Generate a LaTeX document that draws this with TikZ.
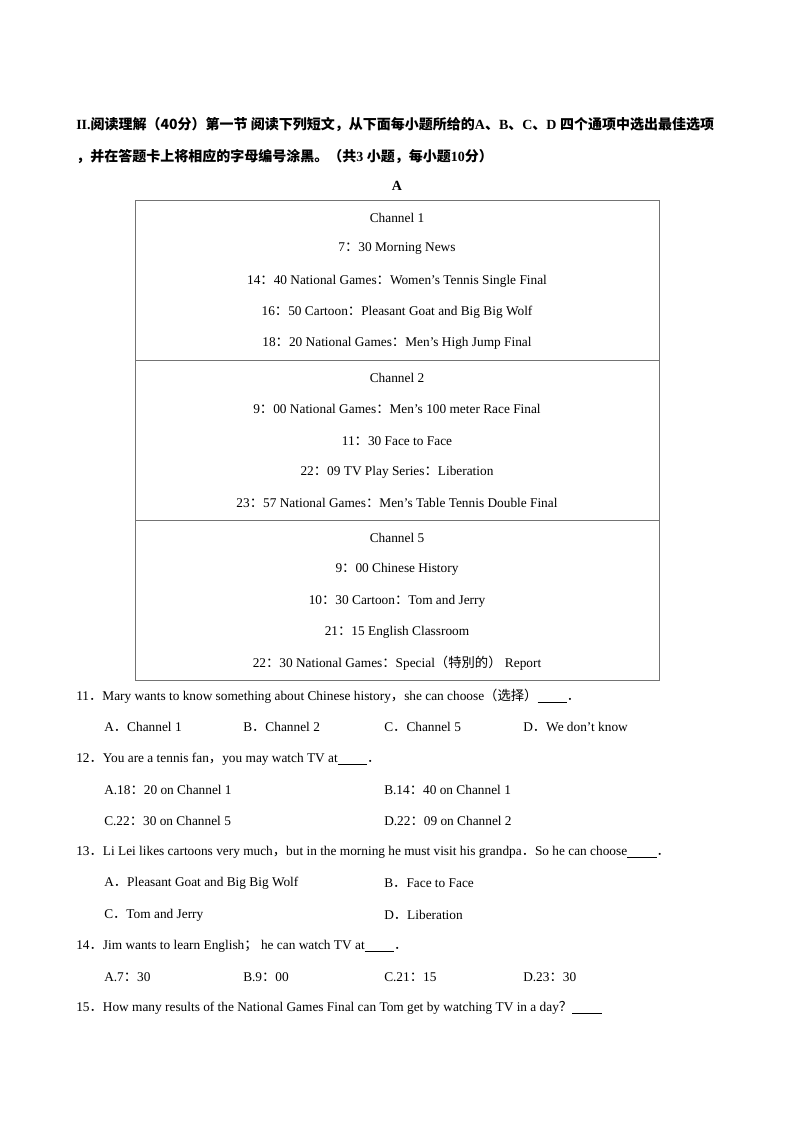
\documentclass[tikz,border=0pt]{standalone}
\usepackage{fontspec}
\setmainfont{Liberation Serif}
\newfontfamily\cjk{Noto Sans CJK SC}
\newcommand{\cc}[1]{{\cjk #1}}
\begin{document}
\begin{tikzpicture}[x=0.75pt,y=-0.75pt,
  every node/.style={inner sep=0pt,font=\fontsize{10pt}{12pt}\selectfont},
  tl/.style={anchor=center},
  q/.style={anchor=west},
  hd/.style={anchor=west,font=\fontsize{10.5pt}{12pt}\selectfont\bfseries}]
\useasboundingbox (0,0) rectangle (794,1123);
\node[hd] (h1) at (76,125) {II.\cc{\bfseries 阅读理解（40分）第一节 阅读下列短文，从下面每小题所给的}A\cc{\bfseries 、}B\cc{\bfseries 、}C\cc{\bfseries 、}D \cc{\bfseries 四个通项中选出最佳选项}};
\node[hd] (h2) at (76,156) {\cc{\bfseries ，并在答题卡上将相应的字母编号涂黑。（共}3 \cc{\bfseries 小题，每小题}10\cc{\bfseries 分）}};
\node[font=\fontsize{10.5pt}{12pt}\selectfont\bfseries] (hA) at (397,186) {A};
\draw[line width=0.5pt,draw=black!55] (135,200) rectangle (659,680);
\draw[line width=0.5pt,draw=black!55] (135,360) -- (659,360);
\draw[line width=0.5pt,draw=black!55] (135,520) -- (659,520);
\node (t1) at (397,218) {Channel 1};
\node (t2) at (397,249) {7\cc{：}30 Morning News};
\node (t3) at (397,281) {14\cc{：}40 National Games\cc{：}Women's Tennis Single Final};
\node (t4) at (397,312) {16\cc{：}50 Cartoon\cc{：}Pleasant Goat and Big Big Wolf};
\node (t5) at (397,343) {18\cc{：}20 National Games\cc{：}Men's High Jump Final};
\node (t6) at (397,378) {Channel 2};
\node (t7) at (397,409) {9\cc{：}00 National Games\cc{：}Men's 100 meter Race Final};
\node (t8) at (397,441) {11\cc{：}30 Face to Face};
\node (t9) at (397,472) {22\cc{：}09 TV Play Series\cc{：}Liberation};
\node (t10) at (397,503) {23\cc{：}57 National Games\cc{：}Men's Table Tennis Double Final};
\node (t11) at (397,538) {Channel 5};
\node (t12) at (397,569) {9\cc{：}00 Chinese History};
\node (t13) at (397,601) {10\cc{：}30 Cartoon\cc{：}Tom and Jerry};
\node (t14) at (397,632) {21\cc{：}15 English Classroom};
\node (t15) at (397,663) {22\cc{：}30 National Games\cc{：}Special\cc{（特別的）} Report};
\node[q] (q11) at (76,696) {11\cc{．}Mary wants to know something about Chinese history\cc{，}she can choose\cc{（选择）}\underline{\hspace{2.2em}}\cc{．}};
\node[q] (o11a) at (104,727) {A\cc{．}Channel 1};
\node[q] (o11b) at (243,727) {B\cc{．}Channel 2};
\node[q] (o11c) at (384,727) {C\cc{．}Channel 5};
\node[q] (o11d) at (523,727) {D\cc{．}We don't know};
\node[q] (q12) at (76,759) {12\cc{．}You are a tennis fan\cc{，}you may watch TV at\underline{\hspace{2.2em}}\cc{．}};
\node[q] (o12a) at (104,790) {A.18\cc{：}20 on Channel 1};
\node[q] (o12b) at (384,790) {B.14\cc{：}40 on Channel 1};
\node[q] (o12c) at (104,821) {C.22\cc{：}30 on Channel 5};
\node[q] (o12d) at (384,821) {D.22\cc{：}09 on Channel 2};
\node[q] (q13) at (76,852) {13\cc{．}Li Lei likes cartoons very much\cc{，}but in the morning he must visit his grandpa\cc{．}So he can choose\underline{\hspace{2.2em}}\cc{．}};
\node[q] (o13a) at (104,883) {A\cc{．}Pleasant Goat and Big Big Wolf};
\node[q] (o13b) at (384,883) {B\cc{．}Face to Face};
\node[q] (o13c) at (104,915) {C\cc{．}Tom and Jerry};
\node[q] (o13d) at (384,915) {D\cc{．}Liberation};
\node[q] (q14) at (76,946) {14\cc{．}Jim wants to learn English\cc{；} he can watch TV at\underline{\hspace{2.2em}}\cc{．}};
\node[q] (o14a) at (104,977) {A.7\cc{：}30};
\node[q] (o14b) at (243,977) {B.9\cc{：}00};
\node[q] (o14c) at (384,977) {C.21\cc{：}15};
\node[q] (o14d) at (523,977) {D.23\cc{：}30};
\node[q] (q15) at (76,1008) {15\cc{．}How many results of the National Games Final can Tom get by watching TV in a day\cc{？}\underline{\hspace{2.2em}}};
\end{tikzpicture}
\end{document}
